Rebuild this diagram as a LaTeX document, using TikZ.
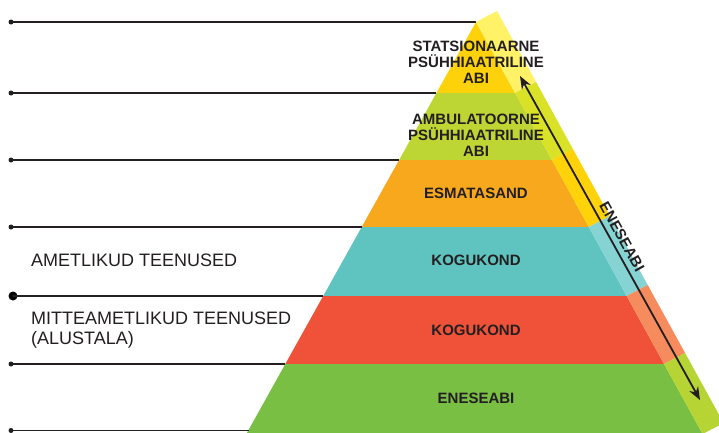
\documentclass[tikz,border=0pt]{standalone}
\usepackage{fontspec}
\setmainfont{Liberation Sans}
\usetikzlibrary{arrows.meta,calc}
\definecolor{txt}{HTML}{231F20}
\definecolor{f1}{HTML}{FDD20B}\definecolor{s1}{HTML}{FFF266}
\definecolor{f2}{HTML}{BDD634}\definecolor{s2}{HTML}{D9E226}
\definecolor{f3}{HTML}{F7A81D}\definecolor{s3}{HTML}{FFD20A}
\definecolor{f4}{HTML}{5FC4BF}\definecolor{s4}{HTML}{86D3D4}
\definecolor{f5}{HTML}{EF5238}\definecolor{s5}{HTML}{F68B5D}
\definecolor{f6}{HTML}{79BF43}\definecolor{s6}{HTML}{B6D433}
\tikzset{
  tier/.style={font=\fontsize{15}{16}\selectfont\bfseries, text=txt, align=center, inner sep=0pt},
  sidelabel/.style={font=\fontsize{18}{20}\selectfont, text=txt, inner sep=0pt, anchor=base west},
  guide/.style={line width=1.8pt, draw=txt},
  dotsmall/.style={circle, fill=txt, inner sep=0pt, minimum size=5pt},
  dotbig/.style={circle, fill=black!90!txt, inner sep=0pt, minimum size=9pt},
  arr/.style={line width=1.8pt, draw=txt, {Stealth[length=13pt,width=10pt]}-{Stealth[length=13pt,width=10pt]}}
}
\begin{document}
\begin{tikzpicture}[x=1pt,y=-1pt]
\useasboundingbox (0,0) rectangle (719,432);
% front edge points
\coordinate (L0) at (476,22);   \coordinate (R0) at (476,22);
\coordinate (L1) at (436.4,93); \coordinate (R1) at (515.1,93);
\coordinate (L2) at (399.1,160);\coordinate (R2) at (551.9,160);
\coordinate (L3) at (361.7,227);\coordinate (R3) at (588.8,227);
\coordinate (L4) at (323.2,296);\coordinate (R4) at (626.7,296);
\coordinate (L5) at (285.3,364);\coordinate (R5) at (664.1,364);
\coordinate (L6) at (246.3,434);\coordinate (R6) at (702.6,434);
\begin{scope}
\clip (0,0) rectangle (719,432);
\foreach \i/\j in {0/1,1/2,2/3,3/4,4/5,5/6}{
  \fill[f\j] (L\i) -- (R\i) -- (R\j) -- (L\j) -- cycle;
  \fill[s\j] (R\i) -- ($(R\i)+(21,-11)$) -- ($(R\j)+(21,-11)$) -- (R\j) -- cycle;
}
\end{scope}
% guide lines
\node[dotsmall] (d0) at (11,22) {};
\node[dotsmall] (d1) at (11,93) {};
\node[dotsmall] (d2) at (11,160) {};
\node[dotsmall] (d3) at (11,227) {};
\node[dotbig]   (d4) at (13,296) {};
\node[dotsmall] (d5) at (11,364) {};
\node[dotsmall] (d6) at (11,430.5) {};
\coordinate (e6) at (248.6,430.5);
\draw[guide] (d0.center) -- (L0);
\draw[guide] (d1.center) -- (L1);
\draw[guide] (d2.center) -- (L2);
\draw[guide] (d3.center) -- (L3);
\draw[guide] (d4.center) -- (L4);
\draw[guide] (d5.center) -- (L5);
\draw[guide] (d6.center) -- (e6);
% tier labels
\node[tier] (t1) at (476,62.7) {STATSIONAARNE\\PSÜHHIAATRILINE\\ABI};
\node[tier] (t2) at (476,135.5) {AMBULATOORNE\\PSÜHHIAATRILINE\\ABI};
\node[tier] (t3) at (476,193.3) {ESMATASAND};
\node[tier] (t4) at (476,260.5) {KOGUKOND};
\node[tier] (t5) at (476,330) {KOGUKOND};
\node[tier] (t6) at (476,398) {ENESEABI};
% side labels
\node[sidelabel] (a1) at (31,266.5) {AMETLIKUD TEENUSED};
\node[sidelabel] (a2) at (31,324.5) {MITTEAMETLIKUD TEENUSED};
\node[sidelabel] (a3) at (31,344.5) {(ALUSTALA)};
% arrow
\coordinate (p1) at (520,76);
\coordinate (p2) at (700,400);
\draw[arr] (p1) -- (p2);
\node[tier, rotate=-61] (lab) at (622,237) {ENESEABI};
\end{tikzpicture}
\end{document}
